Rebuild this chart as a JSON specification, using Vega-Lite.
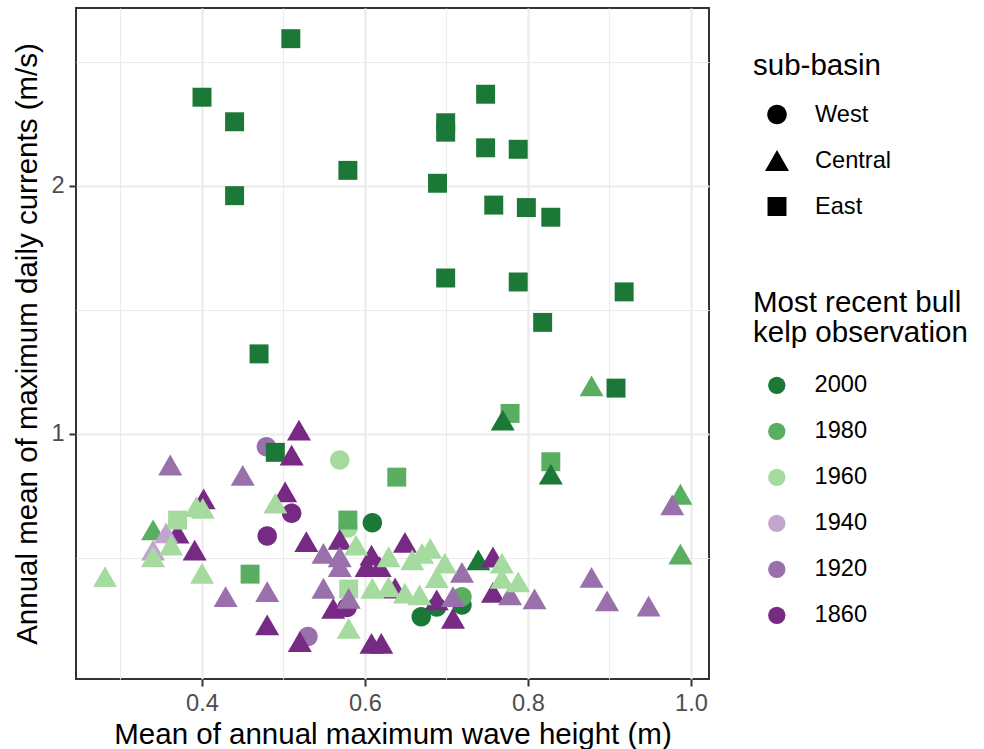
{
  "$schema": "https://vega.github.io/schema/vega-lite/v6.json",
  "width": 633,
  "height": 671,
  "autosize": {"type": "none"},
  "padding": {"left": 76, "top": 8, "right": 275, "bottom": 70},
  "background": "white",
  "config": {
    "font": "Liberation Sans",
    "view": {"stroke": "#333333", "strokeWidth": 2},
    "axis": {
      "domain": false,
      "labelFontSize": 23.6,
      "labelColor": "#4d4d4d",
      "labelFont": "Liberation Sans",
      "titleFont": "Liberation Sans",
      "titleFontSize": 29.5,
      "titleFontWeight": "normal",
      "titleColor": "#000000",
      "tickColor": "#333333",
      "tickWidth": 2,
      "tickSize": 7,
      "labelPadding": 5,
      "labelFlush": false,
      "labelOverlap": false,
      "labelBound": false,
      "gridColor": "#ebebeb",
      "grid": true
    },
    "legend": {
      "padding": 0,
      "labelFont": "Liberation Sans",
      "titleFont": "Liberation Sans",
      "labelFontSize": 23.6,
      "titleFontSize": 29.5,
      "titleFontWeight": "normal",
      "titleColor": "#000000",
      "labelColor": "#000000",
      "titleLimit": 0,
      "labelLimit": 0
    }
  },
  "data": {
    "values": [
      {"wave": 0.609, "current": 0.642, "basin": "West", "year": "2000"},
      {"wave": 0.688, "current": 0.302, "basin": "West", "year": "2000"},
      {"wave": 0.669, "current": 0.263, "basin": "West", "year": "2000"},
      {"wave": 0.719, "current": 0.310, "basin": "West", "year": "2000"},
      {"wave": 0.719, "current": 0.344, "basin": "West", "year": "1980"},
      {"wave": 0.569, "current": 0.895, "basin": "West", "year": "1960"},
      {"wave": 0.579, "current": 0.621, "basin": "West", "year": "1960"},
      {"wave": 0.479, "current": 0.949, "basin": "West", "year": "1920"},
      {"wave": 0.530, "current": 0.183, "basin": "West", "year": "1920"},
      {"wave": 0.510, "current": 0.680, "basin": "West", "year": "1860"},
      {"wave": 0.480, "current": 0.589, "basin": "West", "year": "1860"},
      {"wave": 0.578, "current": 0.300, "basin": "West", "year": "1860"},
      {"wave": 0.509, "current": 2.594, "basin": "East", "year": "2000"},
      {"wave": 0.400, "current": 2.358, "basin": "East", "year": "2000"},
      {"wave": 0.440, "current": 2.259, "basin": "East", "year": "2000"},
      {"wave": 0.579, "current": 2.063, "basin": "East", "year": "2000"},
      {"wave": 0.440, "current": 1.961, "basin": "East", "year": "2000"},
      {"wave": 0.470, "current": 1.323, "basin": "East", "year": "2000"},
      {"wave": 0.748, "current": 2.370, "basin": "East", "year": "2000"},
      {"wave": 0.699, "current": 2.255, "basin": "East", "year": "2000"},
      {"wave": 0.699, "current": 2.217, "basin": "East", "year": "2000"},
      {"wave": 0.748, "current": 2.154, "basin": "East", "year": "2000"},
      {"wave": 0.788, "current": 2.148, "basin": "East", "year": "2000"},
      {"wave": 0.689, "current": 2.011, "basin": "East", "year": "2000"},
      {"wave": 0.758, "current": 1.923, "basin": "East", "year": "2000"},
      {"wave": 0.798, "current": 1.913, "basin": "East", "year": "2000"},
      {"wave": 0.828, "current": 1.874, "basin": "East", "year": "2000"},
      {"wave": 0.699, "current": 1.629, "basin": "East", "year": "2000"},
      {"wave": 0.788, "current": 1.613, "basin": "East", "year": "2000"},
      {"wave": 0.918, "current": 1.573, "basin": "East", "year": "2000"},
      {"wave": 0.818, "current": 1.450, "basin": "East", "year": "2000"},
      {"wave": 0.908, "current": 1.185, "basin": "East", "year": "2000"},
      {"wave": 0.490, "current": 0.926, "basin": "East", "year": "2000"},
      {"wave": 0.778, "current": 1.083, "basin": "East", "year": "1980"},
      {"wave": 0.828, "current": 0.888, "basin": "East", "year": "1980"},
      {"wave": 0.639, "current": 0.826, "basin": "East", "year": "1980"},
      {"wave": 0.579, "current": 0.653, "basin": "East", "year": "1980"},
      {"wave": 0.459, "current": 0.435, "basin": "East", "year": "1980"},
      {"wave": 0.580, "current": 0.375, "basin": "East", "year": "1960"},
      {"wave": 0.769, "current": 1.056, "basin": "Central", "year": "2000"},
      {"wave": 0.828, "current": 0.838, "basin": "Central", "year": "2000"},
      {"wave": 0.739, "current": 0.492, "basin": "Central", "year": "2000"},
      {"wave": 0.878, "current": 1.194, "basin": "Central", "year": "1980"},
      {"wave": 0.987, "current": 0.757, "basin": "Central", "year": "1980"},
      {"wave": 0.987, "current": 0.516, "basin": "Central", "year": "1980"},
      {"wave": 0.340, "current": 0.613, "basin": "Central", "year": "1980"},
      {"wave": 0.519, "current": 1.016, "basin": "Central", "year": "1860"},
      {"wave": 0.510, "current": 0.915, "basin": "Central", "year": "1860"},
      {"wave": 0.502, "current": 0.767, "basin": "Central", "year": "1860"},
      {"wave": 0.402, "current": 0.738, "basin": "Central", "year": "1860"},
      {"wave": 0.370, "current": 0.600, "basin": "Central", "year": "1860"},
      {"wave": 0.391, "current": 0.532, "basin": "Central", "year": "1860"},
      {"wave": 0.480, "current": 0.230, "basin": "Central", "year": "1860"},
      {"wave": 0.520, "current": 0.163, "basin": "Central", "year": "1860"},
      {"wave": 0.528, "current": 0.566, "basin": "Central", "year": "1860"},
      {"wave": 0.569, "current": 0.575, "basin": "Central", "year": "1860"},
      {"wave": 0.608, "current": 0.512, "basin": "Central", "year": "1860"},
      {"wave": 0.602, "current": 0.465, "basin": "Central", "year": "1860"},
      {"wave": 0.618, "current": 0.465, "basin": "Central", "year": "1860"},
      {"wave": 0.649, "current": 0.563, "basin": "Central", "year": "1860"},
      {"wave": 0.757, "current": 0.504, "basin": "Central", "year": "1860"},
      {"wave": 0.757, "current": 0.361, "basin": "Central", "year": "1860"},
      {"wave": 0.688, "current": 0.331, "basin": "Central", "year": "1860"},
      {"wave": 0.708, "current": 0.257, "basin": "Central", "year": "1860"},
      {"wave": 0.561, "current": 0.297, "basin": "Central", "year": "1860"},
      {"wave": 0.637, "current": 0.379, "basin": "Central", "year": "1860"},
      {"wave": 0.608, "current": 0.156, "basin": "Central", "year": "1860"},
      {"wave": 0.620, "current": 0.156, "basin": "Central", "year": "1860"},
      {"wave": 0.340, "current": 0.532, "basin": "Central", "year": "1940"},
      {"wave": 0.356, "current": 0.601, "basin": "Central", "year": "1940"},
      {"wave": 0.361, "current": 0.875, "basin": "Central", "year": "1920"},
      {"wave": 0.450, "current": 0.833, "basin": "Central", "year": "1920"},
      {"wave": 0.429, "current": 0.344, "basin": "Central", "year": "1920"},
      {"wave": 0.480, "current": 0.364, "basin": "Central", "year": "1920"},
      {"wave": 0.549, "current": 0.519, "basin": "Central", "year": "1920"},
      {"wave": 0.569, "current": 0.505, "basin": "Central", "year": "1920"},
      {"wave": 0.569, "current": 0.465, "basin": "Central", "year": "1920"},
      {"wave": 0.549, "current": 0.378, "basin": "Central", "year": "1920"},
      {"wave": 0.580, "current": 0.337, "basin": "Central", "year": "1920"},
      {"wave": 0.719, "current": 0.442, "basin": "Central", "year": "1920"},
      {"wave": 0.708, "current": 0.344, "basin": "Central", "year": "1920"},
      {"wave": 0.778, "current": 0.351, "basin": "Central", "year": "1920"},
      {"wave": 0.808, "current": 0.335, "basin": "Central", "year": "1920"},
      {"wave": 0.878, "current": 0.422, "basin": "Central", "year": "1920"},
      {"wave": 0.897, "current": 0.327, "basin": "Central", "year": "1920"},
      {"wave": 0.948, "current": 0.306, "basin": "Central", "year": "1920"},
      {"wave": 0.977, "current": 0.714, "basin": "Central", "year": "1920"},
      {"wave": 0.281, "current": 0.425, "basin": "Central", "year": "1960"},
      {"wave": 0.393, "current": 0.707, "basin": "Central", "year": "1960"},
      {"wave": 0.401, "current": 0.700, "basin": "Central", "year": "1960"},
      {"wave": 0.362, "current": 0.552, "basin": "Central", "year": "1960"},
      {"wave": 0.340, "current": 0.505, "basin": "Central", "year": "1960"},
      {"wave": 0.400, "current": 0.438, "basin": "Central", "year": "1960"},
      {"wave": 0.490, "current": 0.721, "basin": "Central", "year": "1960"},
      {"wave": 0.589, "current": 0.552, "basin": "Central", "year": "1960"},
      {"wave": 0.629, "current": 0.505, "basin": "Central", "year": "1960"},
      {"wave": 0.658, "current": 0.492, "basin": "Central", "year": "1960"},
      {"wave": 0.670, "current": 0.519, "basin": "Central", "year": "1960"},
      {"wave": 0.680, "current": 0.539, "basin": "Central", "year": "1960"},
      {"wave": 0.698, "current": 0.479, "basin": "Central", "year": "1960"},
      {"wave": 0.688, "current": 0.421, "basin": "Central", "year": "1960"},
      {"wave": 0.768, "current": 0.479, "basin": "Central", "year": "1960"},
      {"wave": 0.768, "current": 0.418, "basin": "Central", "year": "1960"},
      {"wave": 0.788, "current": 0.404, "basin": "Central", "year": "1960"},
      {"wave": 0.609, "current": 0.378, "basin": "Central", "year": "1960"},
      {"wave": 0.629, "current": 0.384, "basin": "Central", "year": "1960"},
      {"wave": 0.649, "current": 0.358, "basin": "Central", "year": "1960"},
      {"wave": 0.667, "current": 0.351, "basin": "Central", "year": "1960"},
      {"wave": 0.580, "current": 0.216, "basin": "Central", "year": "1960"},
      {"wave": 0.370, "current": 0.653, "basin": "East", "year": "1960"}
    ]
  },
  "mark": {"type": "point", "filled": true, "opacity": 1, "strokeWidth": 0, "size": 576},
  "encoding": {
    "x": {
      "field": "wave",
      "type": "quantitative",
      "scale": {"domain": [0.2454, 1.0221], "nice": false, "zero": false},
      "axis": {
        "title": "Mean of annual maximum wave height (m)",
        "values": [0.3, 0.4, 0.5, 0.6, 0.7, 0.8, 0.9, 1.0],
        "labelExpr": "round(datum.value*10)%2==0 ? format(datum.value,'.1f') : ''",
        "tickOpacity": {"condition": {"test": "round(datum.value*10)%2==0", "value": 1}, "value": 0},
        "gridWidth": {"condition": {"test": "round(datum.value*10)%2==0", "value": 2.2}, "value": 1.1},
        "titlePadding": 6
      }
    },
    "y": {
      "field": "current",
      "type": "quantitative",
      "scale": {"domain": [0.0121, 2.7177], "nice": false, "zero": false},
      "axis": {
        "title": "Annual mean of maximum daily currents (m/s)",
        "values": [0.5, 1, 1.5, 2, 2.5],
        "labelExpr": "round(datum.value*2)%2==0 ? format(datum.value,'d') : ''",
        "tickOpacity": {"condition": {"test": "round(datum.value*2)%2==0", "value": 1}, "value": 0},
        "gridWidth": {"condition": {"test": "round(datum.value*2)%2==0", "value": 2.2}, "value": 1.1},
        "titlePadding": 8
      }
    },
    "color": {
      "field": "year",
      "type": "nominal",
      "scale": {
        "domain": ["2000", "1980", "1960", "1940", "1920", "1860"],
        "range": ["#1b7837", "#5aae61", "#a6dba0", "#c2a5cf", "#9970ab", "#762a83"]
      },
      "legend": {
        "title": ["Most recent bull", "kelp observation"],
        "orient": "none",
        "legendX": 677,
        "legendY": 281,
        "titleLineHeight": 30,
        "titlePadding": 25,
        "symbolType": "circle",
        "symbolSize": 300,
        "symbolOffset": 12,
        "labelOffset": 26,
        "rowPadding": 21
      }
    },
    "shape": {
      "field": "basin",
      "type": "nominal",
      "scale": {
        "domain": ["West", "Central", "East"],
        "range": [
          "M0.8125,0A0.8125,0.8125,0,1,1,-0.8125,0A0.8125,0.8125,0,1,1,0.8125,0Z",
          "triangle-up",
          "M-0.79,-0.79H0.79V0.79H-0.79Z"
        ]
      },
      "legend": {
        "title": "sub-basin",
        "orient": "none",
        "legendX": 677,
        "legendY": 44,
        "titlePadding": 21,
        "symbolSize": 576,
        "symbolFillColor": "black",
        "symbolStrokeWidth": 0,
        "symbolOffset": 12,
        "labelOffset": 26,
        "rowPadding": 22
      }
    }
  }
}
